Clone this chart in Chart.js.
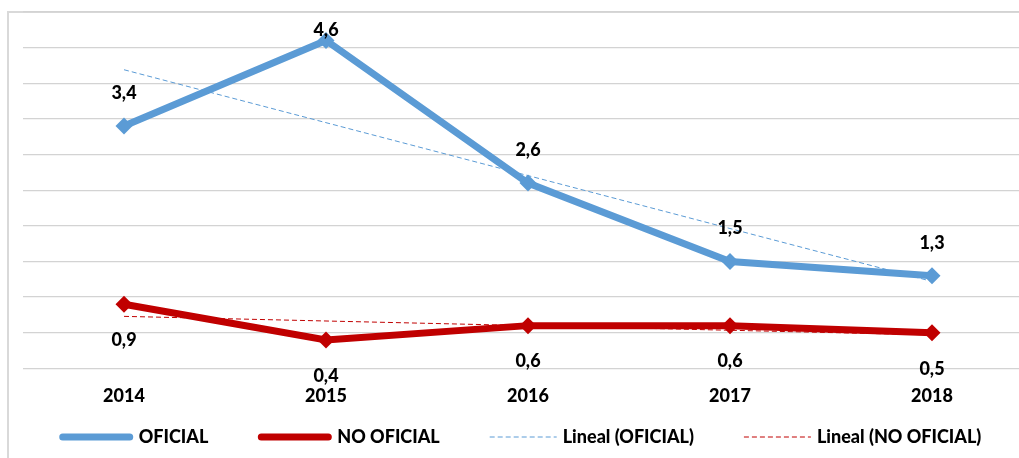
<!DOCTYPE html>
<html>
<head>
<meta charset="utf-8">
<script src="https://cdn.jsdelivr.net/npm/chart.js@4.4.1/dist/chart.umd.min.js"></script>
<style>
  html, body { margin: 0; padding: 0; background: #ffffff; overflow: hidden; }
  #wrap { position: relative; width: 1019px; height: 458px; overflow: hidden; }
  #frame { position: absolute; left: 7px; top: 11px; width: 1100px; height: 600px;
           border-left: 2px solid #d9d9d9; border-top: 2px solid #d9d9d9; }
  canvas { position: absolute; left: 0; top: 0; }
</style>
</head>
<body>
<div id="wrap">
  <div id="frame"></div>
  <canvas id="c" width="1045" height="458"></canvas>
</div>
<script>
// ---- data ----
const categories = ['2014', '2015', '2016', '2017', '2018'];
const oficial = [3.4, 4.6, 2.6, 1.5, 1.3];
const noOficial = [0.9, 0.4, 0.6, 0.6, 0.5];
// trend-line end points
const trendOficial = [4.19, null, null, null, 1.22];
const trendNoOficial = [0.73, null, null, null, 0.47];
const seriesNames = ['OFICIAL', 'NO OFICIAL', 'Lineal (OFICIAL)', 'Lineal (NO OFICIAL)'];

const BLUE = '#5B9BD5';
const RED = '#C00000';
const FONT = 'Lato, "Open Sans", sans-serif';
const WEIGHT = '900';

const fmt = v => v.toFixed(1).replace('.', ',');

const dataLabels = {
  id: 'dataLabels',
  afterDatasetsDraw(chart) {
    const ctx = chart.ctx;
    ctx.save();
    ctx.font = WEIGHT + ' 18px ' + FONT;
    ctx.fillStyle = '#000';
    ctx.textAlign = 'center';
    ctx.textBaseline = 'middle';
    [0, 1].forEach(di => {
      const meta = chart.getDatasetMeta(di);
      const vals = chart.data.datasets[di].data;
      meta.data.forEach((pt, i) => {
        let y;
        if (di === 0) y = Math.max(pt.y - 33, chart.chartArea.top + 18);
        else y = pt.y + 36;
        ctx.fillText(fmt(vals[i]), pt.x, y);
      });
    });
    ctx.restore();
  }
};

const customLegend = {
  id: 'customLegend',
  afterDraw(chart) {
    const ctx = chart.ctx;
    const ds = chart.data.datasets;
    ctx.save();
    ctx.font = WEIGHT + ' 18px ' + FONT;
    const gapText = 6, gapItem = 50;
    const items = ds.map(d => {
      const dashed = !!(d.borderDash && d.borderDash.length);
      return { d, dashed, sw: dashed ? 67 : 73, tw: ctx.measureText(d.label).width };
    });
    let total = 0;
    items.forEach((it, i) => { total += it.sw + gapText + it.tw + (i < items.length - 1 ? gapItem : 0); });
    let x = (chart.width - total) / 2 - 2;
    const y = 437;
    items.forEach(it => {
      ctx.beginPath();
      ctx.strokeStyle = it.d.borderColor;
      ctx.lineWidth = it.d.borderWidth;
      ctx.lineCap = it.dashed ? 'butt' : 'round';
      ctx.setLineDash(it.dashed ? it.d.borderDash : []);
      ctx.moveTo(x + (it.dashed ? 0 : 3), y);
      ctx.lineTo(x + it.sw - (it.dashed ? 0 : 3), y);
      ctx.stroke();
      ctx.setLineDash([]);
      ctx.fillStyle = '#000';
      ctx.textAlign = 'left';
      ctx.textBaseline = 'middle';
      ctx.fillText(it.d.label, x + it.sw + gapText, y);
      x += it.sw + gapText + it.tw + gapItem;
    });
    ctx.restore();
  }
};

new Chart(document.getElementById('c'), {
  type: 'line',
  data: {
    labels: categories,
    datasets: [
      { label: seriesNames[0], data: oficial, borderColor: BLUE, backgroundColor: BLUE,
        borderWidth: 7, pointStyle: 'rectRot', pointRadius: 8.5, pointBorderWidth: 0,
        pointBackgroundColor: BLUE, tension: 0, order: 1 },
      { label: seriesNames[1], data: noOficial, borderColor: RED, backgroundColor: RED,
        borderWidth: 7, pointStyle: 'rectRot', pointRadius: 8.5, pointBorderWidth: 0,
        pointBackgroundColor: RED, tension: 0, order: 1 },
      { label: seriesNames[2], data: trendOficial, borderColor: BLUE, borderWidth: 1,
        borderDash: [5, 3], pointRadius: 0, spanGaps: true, order: -1 },
      { label: seriesNames[3], data: trendNoOficial, borderColor: RED, borderWidth: 1,
        borderDash: [5, 3], pointRadius: 0, spanGaps: true, order: -1 }
    ]
  },
  options: {
    responsive: false,
    animation: false,
    layout: { padding: { left: 23, right: 12, top: 12, bottom: 34 } },
    plugins: { legend: { display: false }, tooltip: { enabled: false } },
    scales: {
      x: {
        offset: true,
        grid: { display: false, drawTicks: false },
        border: { display: false },
        ticks: { color: '#000', padding: 17, font: { family: FONT, size: 18, weight: WEIGHT } }
      },
      y: {
        min: 0, max: 5,
        grid: { color: '#d3d3d3', lineWidth: 1.3, drawTicks: false },
        border: { display: false },
        ticks: { display: false, stepSize: 0.5 }
      }
    }
  },
  plugins: [dataLabels, customLegend]
});
</script>
</body>
</html>
